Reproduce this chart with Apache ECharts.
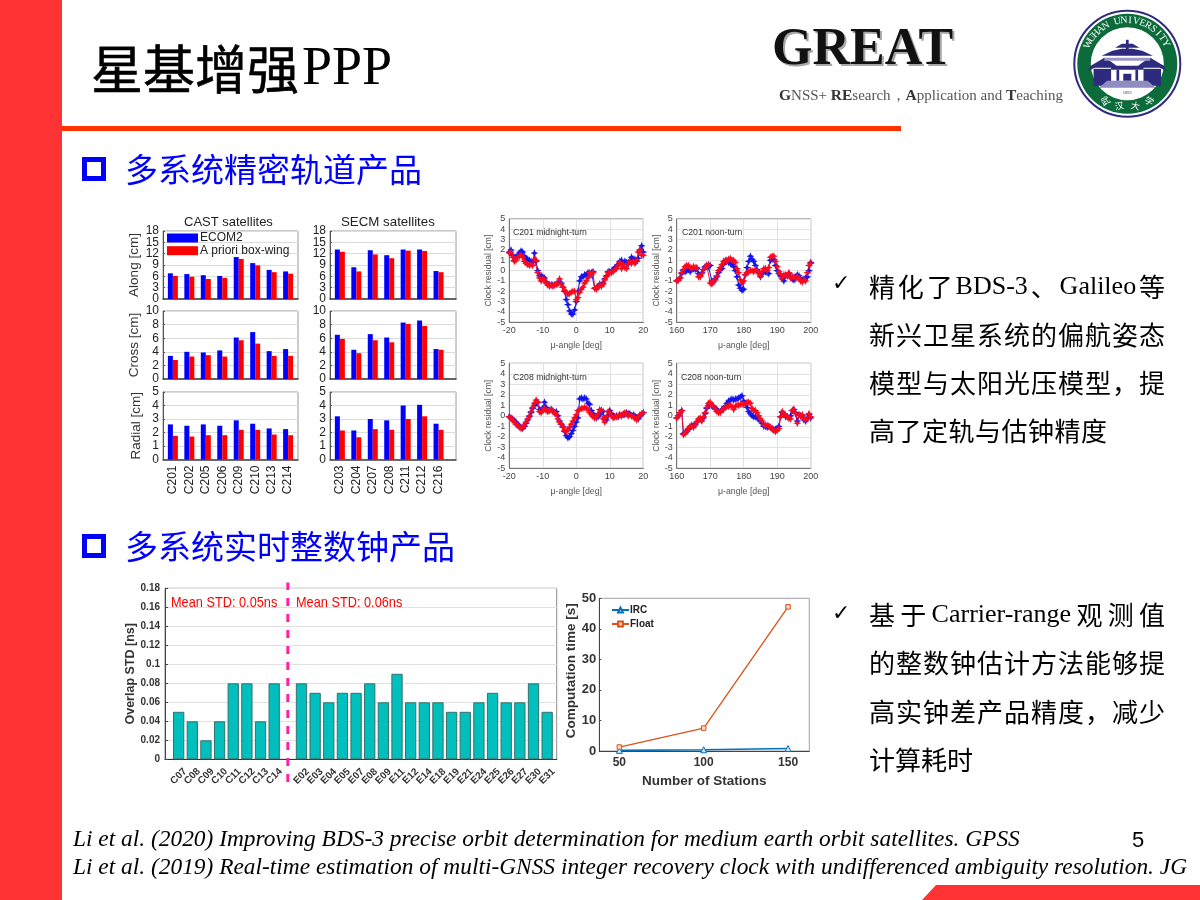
<!DOCTYPE html>
<html><head><meta charset="utf-8">
<script src="https://cdn.jsdelivr.net/npm/echarts@6/dist/echarts.min.js"></script>
<style>html,body{margin:0;padding:0;background:#fff}#c{width:1200px;height:900px}</style>
</head><body><div id="c"></div>
<script>
const castCats=['C201','C202','C205','C206','C209','C210','C213','C214'];
const secmCats=['C203','C204','C207','C208','C211','C212','C216'];
const castAlongBlue=[6.8,6.6,6.3,6.1,11.1,9.5,7.7,7.3];
const castAlongRed=[6.1,5.9,5.3,5.6,10.6,8.9,7.1,6.7];
const castCrossBlue=[3.4,4.0,3.9,4.2,6.1,6.9,4.1,4.4];
const castCrossRed=[2.8,3.3,3.5,3.3,5.7,5.2,3.4,3.4];
const castRadialBlue=[2.6,2.5,2.6,2.5,2.9,2.65,2.3,2.25];
const castRadialRed=[1.75,1.7,1.8,1.8,2.2,2.2,1.85,1.8];
const secmAlongBlue=[13.1,8.4,12.9,11.6,13.1,13.1,7.4];
const secmAlongRed=[12.5,7.3,11.8,10.8,12.8,12.7,7.1];
const secmCrossBlue=[6.5,4.3,6.6,6.1,8.3,8.6,4.4];
const secmCrossRed=[5.9,3.8,5.7,5.4,8.1,7.8,4.3];
const secmRadialBlue=[3.2,2.15,3.0,2.9,4.0,4.05,2.65];
const secmRadialRed=[2.15,1.65,2.25,2.2,3.0,3.2,2.2];
const alongTicksA=[0,6,12,18];
const alongTicksB=[3,9,15];

const muMid=[-20,-19.5,-19,-18.5,-18,-17.5,-17,-16.5,-16,-15.5,-15,-14.5,-14,-13.5,-13,-12.5,-12,-11.5,-11,-10.5,-10,-9.5,-9,-8.5,-8,-7.5,-7,-6.5,-6,-5.5,-5,-4.5,-4,-3.5,-3,-2.5,-2,-1.5,-1,-0.5,0,0.5,1,1.5,2,2.5,3,3.5,4,4.5,5,5.5,6,6.5,7,7.5,8,8.5,9,9.5,10,10.5,11,11.5,12,12.5,13,13.5,14,14.5,15,15.5,16,16.5,17,17.5,18,18.5,19,19.5,20];
const muNoon=[160,160.5,161,161.5,162,162.5,163,163.5,164,164.5,165,165.5,166,166.5,167,167.5,168,168.5,169,169.5,170,170.5,171,171.5,172,172.5,173,173.5,174,174.5,175,175.5,176,176.5,177,177.5,178,178.5,179,179.5,180,180.5,181,181.5,182,182.5,183,183.5,184,184.5,185,185.5,186,186.5,187,187.5,188,188.5,189,189.5,190,190.5,191,191.5,192,192.5,193,193.5,194,194.5,195,195.5,196,196.5,197,197.5,198,198.5,199,199.5,200];
const c201MidBlue=[1.8,2.0,1.5,1.0,1.3,1.5,1.7,1.9,1.8,1.4,1.2,1.1,1.0,0.9,0.8,1.7,0.9,0.0,-0.5,-0.5,-0.6,-0.7,-1.1,-1.3,-1.4,-1.4,-1.4,-1.4,-1.3,-1.2,-1.1,-1.2,-1.6,-2.0,-2.8,-3.3,-3.9,-4.2,-4.2,-3.8,-3.0,-2.0,-1.0,-0.6,-0.6,-0.4,-0.4,-0.2,-0.4,-0.2,-0.1,-1.7,-1.7,-1.5,-1.3,-1.4,-1.2,-0.8,-0.5,-0.1,-0.1,-0.1,0.1,0.3,0.4,0.6,0.9,1.0,0.7,0.9,0.8,0.6,1.0,1.3,1.1,1.1,0.9,1.2,2.0,2.4,1.8];
const c201MidRed=[1.7,1.8,1.3,0.9,1.0,1.3,1.4,1.5,1.3,0.9,0.7,0.6,0.5,0.6,0.5,1.1,1.0,-0.2,-0.7,-1.0,-0.8,-0.9,-1.2,-1.4,-1.5,-1.4,-1.5,-1.4,-1.3,-1.3,-0.8,-1.3,-1.6,-1.9,-2.1,-2.3,-2.2,-2.1,-2.0,-2.0,-2.8,-2.6,-2.1,-1.8,-1.6,-1.2,-1.0,-0.7,-0.2,-0.4,-0.2,-1.7,-1.8,-1.6,-1.4,-1.5,-1.3,-0.9,-0.6,-0.2,-0.2,-0.2,-0.1,0.1,0.2,0.5,0.8,0.2,0.6,0.3,0.2,0.7,0.9,0.7,0.9,0.7,1.0,1.8,2.0,1.5,1.5];
const c201NoonBlue=[-1.0,-0.9,-0.7,-0.3,0.0,-0.1,0.0,0.1,-0.1,0.1,0.2,0.1,0.2,-0.3,-0.5,-0.2,0.1,0.4,0.5,0.4,0.5,-1.0,-1.1,-0.8,-0.6,-0.2,0.1,0.2,0.6,0.9,1.0,0.8,0.7,0.6,0.4,0.0,-0.6,-1.4,-1.7,-1.9,-1.8,-0.4,0.3,0.9,1.4,1.1,0.9,0.5,0.1,-0.2,-0.6,-0.3,-0.1,-0.1,-0.2,-0.3,1.0,1.1,1.1,0.5,0.0,-0.3,-0.5,-0.8,-1.0,-0.5,-0.5,-0.3,-0.6,-0.8,-0.9,-0.6,-0.4,-0.5,-0.8,-0.9,-0.8,-0.7,-0.6,0.0,0.8];
const c201NoonRed=[-1.0,-0.9,-0.7,-0.2,0.1,0.4,0.5,0.5,0.3,0.2,0.4,0.3,0.3,-0.6,-0.6,-0.3,0.1,0.3,0.5,0.6,-1.2,-1.3,-1.0,-0.9,-0.5,0.0,0.3,0.6,0.9,1.0,0.9,1.1,1.2,1.0,1.0,0.8,0.2,-0.2,-0.9,-1.2,-1.0,-0.4,-0.2,-0.1,0.0,0.0,-0.1,0.1,0.0,-0.3,-0.5,-0.1,0.2,0.2,0.0,0.3,1.3,1.4,1.4,0.9,0.4,-0.1,-0.3,-0.7,-0.4,-0.4,-0.5,-0.2,-0.7,-0.6,-0.6,-0.8,-0.6,-0.7,-1.0,-1.1,-0.9,-1.0,-0.2,0.5,0.7];
const c208MidBlue=[-0.1,-0.2,-0.3,-0.5,-0.6,-0.8,-1.0,-1.1,-1.2,-1.0,-0.7,-0.4,-0.1,0.3,0.7,1.0,1.2,1.3,0.6,0.6,0.7,1.3,0.8,0.5,0.5,0.6,0.5,0.3,0.4,0.0,-0.5,-0.8,-1.0,-1.5,-1.9,-2.1,-2.0,-1.7,-1.4,-1.0,-0.6,-0.2,1.6,1.7,1.6,1.7,1.6,1.2,1.1,0.5,0.2,0.0,-0.2,-0.1,0.1,0.5,0.4,-0.2,-0.4,0.0,0.5,0.2,0.0,-0.1,0.0,-0.1,0.1,0.0,0.1,0.1,0.3,0.2,0.2,0.0,0.1,0.0,-0.2,-0.3,0.0,0.1,0.3];
const c208MidRed=[-0.1,-0.2,-0.4,-0.6,-0.8,-0.9,-1.1,-1.2,-1.1,-0.9,-0.6,-0.3,0.0,0.4,0.8,1.2,1.5,1.3,0.4,0.3,0.5,0.7,0.5,0.4,0.5,0.6,0.4,0.3,0.1,-0.3,-0.6,-0.8,-1.1,-1.4,-1.5,-1.3,-1.1,-0.8,-0.5,-0.2,0.1,0.5,0.6,0.7,0.7,0.8,0.7,0.6,0.3,0.1,-0.1,-0.2,-0.1,0.2,0.6,0.5,-0.3,-0.6,-0.1,0.4,0.3,0.0,-0.2,-0.1,-0.1,0.0,0.1,0.0,0.2,0.3,0.2,0.0,0.1,0.0,-0.1,-0.2,-0.4,-0.1,0.1,0.2,0.3];
const c208NoonBlue=[-0.2,0.0,0.3,0.5,-1.7,-1.6,-1.5,-1.3,-1.1,-0.9,-1.0,-0.8,-0.6,-0.4,-0.3,-0.4,-0.2,0.2,0.7,1.0,1.1,1.0,0.9,0.7,0.6,0.4,0.4,0.6,0.7,0.9,1.2,1.4,1.5,1.6,1.5,1.6,1.6,1.7,1.8,1.9,1.4,1.2,0.8,0.4,0.2,0.0,-0.1,-0.1,-0.2,-0.3,-0.5,-0.7,-1.0,-1.0,-1.1,-1.0,-1.1,-1.2,-1.3,-1.3,-1.2,-1.0,-0.1,0.3,0.2,-0.1,-0.1,-0.2,0.0,0.5,0.6,0.3,-0.5,0.1,0.0,0.0,-0.4,-0.5,-0.2,0.1,-0.2];
const c208NoonRed=[-0.2,0.0,0.3,0.5,-1.8,-1.7,-1.5,-1.2,-1.0,-1.0,-1.1,-0.9,-0.6,-0.3,-0.2,-0.5,-0.1,0.3,0.8,1.2,1.3,1.0,0.9,0.6,0.4,0.3,0.3,0.6,0.6,0.8,0.9,0.9,1.0,0.9,0.6,0.9,1.0,1.0,1.1,1.1,1.1,1.1,1.3,1.3,1.2,0.7,0.5,0.5,0.3,0.0,-0.3,-0.5,-0.9,-0.9,-0.9,-1.0,-1.1,-1.3,-1.4,-1.5,-1.4,-1.2,-0.1,0.4,0.2,0.0,-0.1,-0.2,-0.3,0.5,0.6,0.2,-0.7,0.1,0.0,0.1,-0.3,-0.4,-0.3,0.2,-0.1];

const overlapCats=['C07','C08','C09','C10','C11','C12','C13','C14','','E02','E03','E04','E05','E07','E08','E09','E11','E12','E14','E18','E19','E21','E24','E25','E26','E27','E30','E31'];
const overlapVals=[0.05,0.04,0.02,0.04,0.08,0.08,0.04,0.08,null,0.08,0.07,0.06,0.07,0.07,0.08,0.06,0.09,0.06,0.06,0.06,0.05,0.05,0.06,0.07,0.06,0.06,0.08,0.05];
const stations=[50,100,150];
const ircTime=[0.2,0.4,0.8];
const floatTime=[1.3,7.5,47.2];

const SANS='"Liberation Sans",Arial,sans-serif', SERIF='"Liberation Serif",serif', CJK='"Noto Sans CJK SC",sans-serif';
const grid=[],xAxis=[],yAxis=[],series=[],legend=[],extraY=[];
function addGrid(l,r,t,b,border){grid.push({show:true,left:l,top:t,width:r-l,height:b-t,borderColor:border||'#9a9a9a',borderWidth:1,backgroundColor:'#fff'});return grid.length-1;}

/* orbit bar panels */
function barPanel(g,cats,xmax,ymax,step,name,blue,red,showLabels){
  xAxis.push({gridIndex:g,type:'value',min:0.4,max:xmax,splitLine:{show:false},
    axisLine:{onZero:false,lineStyle:{color:'#3c3c3c',width:1.5}},axisTick:{show:false},
    axisLabel:{show:showLabels,customValues:cats.map((c,i)=>i+1),formatter:v=>cats[Math.round(v)-1]||'',rotate:90,fontSize:12,fontFamily:SANS,color:'#222',margin:6}});
  const yi=xAxis.length-1;
  const labelBase={fontSize:12,lineHeight:9,fontFamily:SANS,color:'#222',margin:4,hideOverlap:false,showMinLabel:true,showMaxLabel:true};
  const dense=ymax===18;
  yAxis.push({gridIndex:g,type:'value',position:'left',min:0,max:ymax,interval:step,name:name||'',nameLocation:'middle',nameGap:20,
    nameTextStyle:{fontSize:13.5,fontFamily:SANS,color:'#333'},
    axisLine:{show:true,onZero:false,lineStyle:{color:'#555',width:1}},axisTick:{show:true,inside:true,length:2,lineStyle:{color:'#555'}},
    splitLine:{show:true,lineStyle:{color:'#dcdcdc',width:1}},
    axisLabel:dense?Object.assign({customValues:alongTicksA},labelBase):labelBase});
  if(dense) extraY.push({gridIndex:g,type:'value',position:'left',min:0,max:ymax,interval:step,axisLine:{show:false,onZero:false},axisTick:{show:false},splitLine:{show:false},
    axisLabel:Object.assign({customValues:alongTicksB},labelBase)});
  [['ECOM2',blue,'#0000ff'],['A priori box-wing',red,'#ff0000']].forEach(([n,d,col])=>series.push({
    name:n,type:'bar',xAxisIndex:yi,yAxisIndex:yi,barWidth:5,barGap:0,data:d.map((v,i)=>[i+1,v]),itemStyle:{color:col},silent:true}));
}
const bl=[[231,299],[311,379],[392,459.5]];
let g;
g=addGrid(163,298,bl[0][0],bl[0][1]);barPanel(g,castCats,8.6,18,3,'Along [cm]',castAlongBlue,castAlongRed,false);
g=addGrid(163,298,bl[1][0],bl[1][1]);barPanel(g,castCats,8.6,10,2,'Cross [cm]',castCrossBlue,castCrossRed,false);
g=addGrid(163,298,bl[2][0],bl[2][1]);barPanel(g,castCats,8.6,5,1,'Radial [cm]',castRadialBlue,castRadialRed,true);
g=addGrid(330,456,bl[0][0],bl[0][1]);barPanel(g,secmCats,8.06,18,3,'',secmAlongBlue,secmAlongRed,false);
g=addGrid(330,456,bl[1][0],bl[1][1]);barPanel(g,secmCats,8.06,10,2,'',secmCrossBlue,secmCrossRed,false);
g=addGrid(330,456,bl[2][0],bl[2][1]);barPanel(g,secmCats,8.06,5,1,'',secmRadialBlue,secmRadialRed,true);
legend.push({data:['ECOM2','A priori box-wing'],left:167,top:232,orient:'vertical',itemWidth:31,itemHeight:9,itemGap:0.7,padding:0,selectedMode:false,icon:'rect',
  textStyle:{fontSize:12,fontFamily:SANS,color:'#222',padding:[0,0,0,-3]}});

/* clock residual panels */
const STAR='path://M0,-5L1.4,-1.4L5,0L1.4,1.4L0,5L-1.4,1.4L-5,0L-1.4,-1.4Z';
function clockPanel(l,r,t,b,xs,xmin,xmax,blue,red){
  const gi=addGrid(l,r,t,b,'#777');
  xAxis.push({gridIndex:gi,type:'value',min:xmin,max:xmax,interval:10,name:'\u03BC-angle [deg]',nameLocation:'middle',nameGap:19,
    nameTextStyle:{fontSize:8.8,fontFamily:SANS,color:'#555'},
    axisLine:{onZero:false,lineStyle:{color:'#777'}},axisTick:{show:false},splitLine:{show:true,lineStyle:{color:'#e2e2e2'}},
    axisLabel:{fontSize:9,fontFamily:SANS,color:'#444',margin:4,showMinLabel:true,showMaxLabel:true}});
  const i=xAxis.length-1;
  yAxis.push({gridIndex:gi,type:'value',min:-5,max:5,interval:1,name:'Clock residual [cm]',nameLocation:'middle',nameGap:12,
    nameTextStyle:{fontSize:8.5,fontFamily:SANS,color:'#555'},
    axisLine:{show:true,onZero:false,lineStyle:{color:'#777'}},axisTick:{show:false},splitLine:{show:true,lineStyle:{color:'#e2e2e2'}},
    axisLabel:{fontSize:9,lineHeight:8,fontFamily:SANS,color:'#444',margin:4,hideOverlap:false,showMinLabel:true,showMaxLabel:true}});
  [[blue,'#1414f0'],[red,'#fa0a1e']].forEach(([d,col])=>series.push({type:'line',xAxisIndex:i,yAxisIndex:i,silent:true,
    data:d.map((v,k)=>[xs[k],v]),symbol:STAR,symbolSize:8,showAllSymbol:true,itemStyle:{color:col},lineStyle:{color:col,width:1}}));
}
clockPanel(509.3,643.3,219,322.3,muMid,-20,20,c201MidBlue,c201MidRed);
clockPanel(676.7,810.7,219,322.3,muNoon,160,200,c201NoonBlue,c201NoonRed);
clockPanel(509.3,643.3,363.3,468.3,muMid,-20,20,c208MidBlue,c208MidRed);
clockPanel(676.7,810.7,363.3,468.3,muNoon,160,200,c208NoonBlue,c208NoonRed);

/* overlap STD */
g=addGrid(165,556.7,588.3,759.3,'#8a8a8a');
xAxis.push({gridIndex:g,type:'value',min:0,max:28.7,interval:1,splitLine:{show:false},
  axisLine:{onZero:false,lineStyle:{color:'#333',width:1.2}},axisTick:{show:false},
  axisLabel:{formatter:v=>overlapCats[v-1]||'',rotate:45,align:'center',verticalAlign:'middle',fontSize:10,fontWeight:'bold',fontFamily:SANS,color:'#333',margin:17,interval:0,hideOverlap:false}});
let oi=xAxis.length-1;
yAxis.push({gridIndex:g,type:'value',min:0,max:0.18,interval:0.02,name:'Overlap STD [ns]',nameLocation:'middle',nameGap:25,
  nameTextStyle:{fontSize:12.5,fontWeight:'bold',fontFamily:SANS,color:'#333'},
  axisLine:{show:true,lineStyle:{color:'#444'}},axisTick:{show:true,inside:true,length:3,lineStyle:{color:'#444'}},
  splitLine:{show:true,lineStyle:{color:'#e0e0e0'}},axisLabel:{fontSize:10,fontWeight:'bold',fontFamily:SANS,color:'#333',margin:5,hideOverlap:false,showMinLabel:true,showMaxLabel:true}});
series.push({type:'bar',xAxisIndex:oi,yAxisIndex:oi,barWidth:11.3,silent:true,data:overlapVals.map((v,i)=>[i+1,v]).filter(d=>d[1]!==null),
  itemStyle:{color:'#00BFBC',borderColor:'#35706e',borderWidth:1}});
series.push({type:'line',xAxisIndex:oi,yAxisIndex:oi,silent:true,clip:false,symbol:'none',data:[[9,-0.024],[9,0.186]],
  lineStyle:{color:'#FF1FA8',width:3,type:[8,8]},z:9});

/* computation time */
g=addGrid(599.3,809.3,598.3,751,'#a0a0a0');
xAxis.push({gridIndex:g,type:'value',min:38.1,max:162.6,name:'Number of Stations',nameLocation:'middle',nameGap:23,
  nameTextStyle:{fontSize:13.5,fontWeight:'bold',fontFamily:SANS,color:'#333'},splitLine:{show:false},
  axisLine:{onZero:false,lineStyle:{color:'#444'}},axisTick:{show:true,inside:true,length:2,customValues:stations,lineStyle:{color:'#444'}},
  axisLabel:{customValues:stations,fontSize:12,fontWeight:'bold',fontFamily:SANS,color:'#333',margin:6}});
let ti=xAxis.length-1;
yAxis.push({gridIndex:g,type:'value',min:0,max:50,interval:10,name:'Computation time [s]',nameLocation:'middle',nameGap:20,
  nameTextStyle:{fontSize:13.5,fontWeight:'bold',fontFamily:SANS,color:'#333',padding:[0,0,0,8]},
  axisLine:{show:true,lineStyle:{color:'#444'}},axisTick:{show:true,inside:true,length:2,lineStyle:{color:'#444'}},splitLine:{show:false},
  axisLabel:{fontSize:13,fontWeight:'bold',fontFamily:SANS,color:'#333',margin:3}});
series.push({name:'IRC',type:'line',xAxisIndex:ti,yAxisIndex:ti,silent:true,data:stations.map((s,i)=>[s,ircTime[i]]),symbol:'triangle',symbolSize:6,
  itemStyle:{color:'#cfe3f3',borderColor:'#0072BD',borderWidth:1},lineStyle:{color:'#0072BD',width:1.6}});
series.push({name:'Float',type:'line',xAxisIndex:ti,yAxisIndex:ti,silent:true,data:stations.map((s,i)=>[s,floatTime[i]]),symbol:'rect',symbolSize:4.5,
  itemStyle:{color:'#f6d9c8',borderColor:'#D95319',borderWidth:1},lineStyle:{color:'#D95319',width:1.3}});
legend.push({data:['IRC','Float'],left:611,top:605,orient:'vertical',itemWidth:17,itemHeight:6,itemGap:4,padding:0,selectedMode:false,
  textStyle:{fontSize:10,fontWeight:'bold',fontFamily:SANS,color:'#222',padding:[0,0,0,-4]}});

/* slide furniture */
const G=[];
const rect=(x,y,w,h,c)=>G.push({type:'rect',shape:{x,y,width:w,height:h},style:{fill:c},silent:true,z:0});
const txt=(t,x,y,font,fill,extra,own)=>G.push(Object.assign({type:'text',x,y,style:Object.assign({text:t,font,fill,align:'left',verticalAlign:'middle'},extra||{}),silent:true,z:10},own||{}));
rect(0,0,62,900,'#FF3333');rect(62,126,839,5,'#FF3300');
G.push({type:'polygon',shape:{points:[[922,900],[936,885],[1200,885],[1200,900]]},style:{fill:'#FF3333'},silent:true});
txt('星基增强',91,69,'52px '+CJK,'#000',{stroke:'#000',lineWidth:0.6});
txt('PPP',302,70,'54px '+SERIF,'#000');
/* section headings */
function heading(t,y,x){
  G.push({type:'rect',shape:{x:84.5,y:y-9.5,width:19,height:19},style:{fill:'#fff',stroke:'#0000FF',lineWidth:5},silent:true});
  txt(t,x,y,'33px '+CJK,'#0000FF');
}
heading('多系统精密轨道产品',169,125);
heading('多系统实时整数钟产品',546,125);
/* justified body lines */
const cv=document.createElement('canvas').getContext('2d');
function just(tokens,x0,x1,y){
  const fonts=tokens.map(t=>/^[\x00-\x7f]+$/.test(t)?('26px '+SERIF):('26px '+CJK));
  const ws=tokens.map((t,i)=>{cv.font=fonts[i];return cv.measureText(t).width;});
  const gap=(x1-x0-ws.reduce((a,b)=>a+b,0))/(tokens.length-1);
  let x=x0;tokens.forEach((t,i)=>{txt(t,x,y,fonts[i],'#000');x+=ws[i]+gap;});
}
const ck=(y)=>txt('\u2713',832,y,'22px "DejaVu Sans"','#000');
ck(284);
just(['精','化','了','BDS-3','、','Galileo','等'],869,1165,287);
just('新兴卫星系统的偏航姿态'.split(''),869,1165,335);
just('模型与太阳光压模型，提'.split(''),869,1165,383);
just('高了定轨与估钟精度'.split(''),869,1107,431);
ck(614);
just(['基','于','Carrier-range','观','测','值'],869,1165,615);
just('的整数钟估计方法能够提'.split(''),869,1165,663);
just('高实钟差产品精度，减少'.split(''),869,1165,712);
just('计算耗时'.split(''),869,973,760);
/* chart captions */
txt('CAST satellites',184,222,'13px '+SANS,'#222');
txt('SECM satellites',341,222,'13.3px '+SANS,'#222');
txt('C201 midnight-turn',513,233,'8.7px '+SANS,'#333');
txt('C201 noon-turn',682,233,'8.7px '+SANS,'#333');
txt('C208 midnight-turn',513,378,'8.7px '+SANS,'#333');
txt('C208 noon-turn',681,378,'8.7px '+SANS,'#333');
txt('Mean STD: 0.05ns',171,603,'15px '+SANS,'#FF0000',null,{scaleX:0.85});
txt('Mean STD: 0.06ns',296,603,'15px '+SANS,'#FF0000',null,{scaleX:0.85});
/* references */
txt('Li et al. (2020) Improving BDS-3 precise orbit determination for medium earth orbit satellites. GPSS',73,840,'italic 23.4px '+SERIF,'#000');
txt('Li et al. (2019) Real-time estimation of multi-GNSS integer recovery clock with undifferenced ambiguity resolution. JG',73,868,'italic 23.4px '+SERIF,'#000');
txt('5',1132,841,'22px '+SANS,'#000');
/* GREAT logo */
txt('GREAT',774,53,'bold 52px '+SERIF,'#a8a8a8');
txt('GREAT',772,51,'bold 52px '+SERIF,'#111');
G.push({type:'text',x:779,y:96,silent:true,style:{text:'{b|G}NSS+ {b|RE}search，{b|A}pplication and {b|T}eaching',font:'15px '+SERIF,fill:'#555',verticalAlign:'middle',
  rich:{b:{font:'bold 15.5px '+SERIF,fill:'#333'}}}});
/* university seal */
const cx=1127.3,cy=63.8;
const circ=(r,fill,stroke,lw)=>G.push({type:'circle',shape:{cx,cy,r},style:{fill,stroke,lineWidth:lw||0},silent:true});
circ(53,'#fff','#2E2A7E',2);
circ(50,'#0B6B3A');
circ(36.5,'#fff','#fff',0);
const P=(pts,c)=>G.push({type:'polygon',shape:{points:pts.map(p=>[cx+p[0]*1.35,cy+p[1]])},style:{fill:c||'#2E2A7E'},silent:true});
P([[-1,-24],[1,-24],[1,-13],[-1,-13]]);
P([[-19,-8],[19,-8],[11,-13],[4,-15],[-4,-15],[-11,-13]]);
P([[-9,-16],[9,-16],[4,-20],[-4,-20]]);
P([[-27,2],[-22,-2],[-17,-6],[-12,-2],[-8,2],[8,2],[12,-2],[17,-6],[22,-2],[27,2],[29,7],[24,4],[-24,4],[-29,7]]);
P([[-17,-6],[17,-6],[17,-3],[-17,-3]],'#9a97c8');
P([[-25,5],[-12,5],[-12,22],[-25,22]]);P([[12,5],[25,5],[25,22],[12,22]]);
P([[-12,3],[12,3],[12,6],[-12,6]]);
P([[-8,6],[-6,6],[-6,17],[-8,17]]);P([[6,6],[8,6],[8,17],[6,17]]);P([[-3,10],[3,10],[3,17],[-3,17]]);
P([[-15,17],[15,17],[21,24],[-21,24]],'#8f8cc0');
const seal='WUHAN UNIVERSITY'.split('');
seal.forEach((ch,i)=>{const th=(-63+125*i/(seal.length-1))*Math.PI/180;
  G.push({type:'text',x:cx+43.5*Math.sin(th),y:cy-43.5*Math.cos(th),rotation:-th,silent:true,style:{text:ch,font:'10px '+SERIF,fill:'#fff',align:'center',verticalAlign:'middle'}});});
[['武',-22,37,0.5],['汉',-8,42,0.2],['大',8,42,-0.2],['学',22,37,-0.5]].forEach(([t,dx,dy,r])=>G.push({type:'text',x:cx+dx,y:cy+dy,rotation:r,silent:true,style:{text:t,font:'9px '+CJK,fill:'#fff',align:'center',verticalAlign:'middle'}}));
G.push({type:'text',x:cx,y:cy+29,silent:true,style:{text:'1893',font:'4.5px '+SERIF,fill:'#2E2A7E',align:'center',verticalAlign:'middle'}});

const chart=echarts.init(document.getElementById('c'),null,{renderer:'canvas',width:1200,height:900});
chart.setOption({animation:false,backgroundColor:'#fff',grid,xAxis,yAxis:yAxis.concat(extraY),series,legend,graphic:{elements:G}});
</script></body></html>
